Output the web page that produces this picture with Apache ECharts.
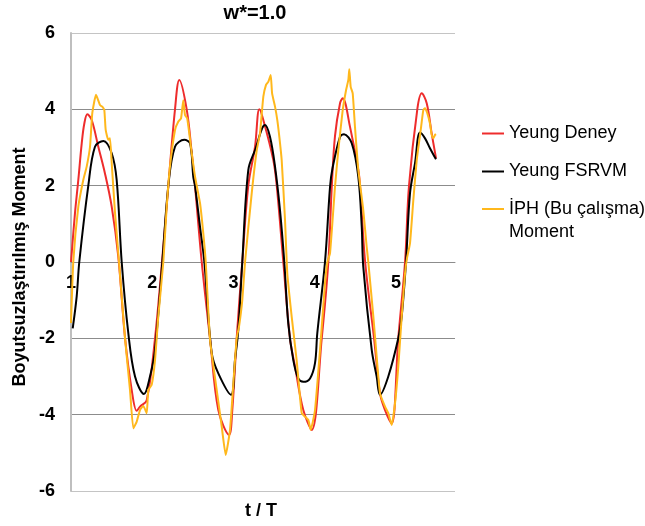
<!DOCTYPE html>
<html>
<head>
<meta charset="utf-8">
<script src="https://cdn.jsdelivr.net/npm/echarts@6/dist/echarts.min.js"></script>
<style>
  html, body { margin: 0; padding: 0; background: #fff; }
  #chart { width: 645px; height: 526px; }
</style>
</head>
<body>
<div id="chart"></div>
<script>
// Dimensionless moment vs t/T, three sources
const seriesNames = ['Yeung Deney', 'Yeung FSRVM', 'İPH (Bu çalışma)\nMoment'];
const xTicks = [1, 2, 3, 4, 5];
const yTicks = [-6, -4, -2, 0, 2, 4, 6];

// Yeung experiment [t/T, moment]
const yeungDeney = [
  [1.000, 0.00], [1.049, 1.28], [1.090, 2.15], [1.132, 3.11], [1.164, 3.63],
  [1.201, 3.87], [1.255, 3.72], [1.336, 3.02], [1.418, 2.32], [1.501, 1.45],
  [1.582, 0.14], [1.665, -1.99], [1.747, -3.35], [1.809, -3.90], [1.849, -3.79],
  [1.932, -3.62], [2.034, -2.00], [2.120, 0.00], [2.198, 2.00], [2.280, 4.00],
  [2.333, 4.77], [2.424, 4.00], [2.486, 2.86], [2.526, 2.00], [2.609, 0.00],
  [2.711, -2.00], [2.813, -3.88], [2.945, -4.53], [2.985, -3.88], [3.039, -2.00],
  [3.108, 0.00], [3.182, 2.00], [3.265, 3.02], [3.318, 4.00], [3.367, 3.72],
  [3.490, 2.67], [3.532, 2.00], [3.613, 0.00], [3.695, -2.00], [3.757, -2.74],
  [3.859, -3.88], [3.962, -4.40], [4.086, -2.00], [4.167, 0.00], [4.210, 2.00],
  [4.249, 3.30], [4.311, 4.16], [4.344, 4.29], [4.434, 3.54], [4.536, 2.41],
  [4.557, 2.00], [4.620, 0.00], [4.730, -2.00], [4.803, -3.44], [4.865, -3.88],
  [4.947, -4.23], [5.028, -2.00], [5.111, 0.00], [5.160, 2.00], [5.262, 4.00],
  [5.316, 4.42], [5.378, 4.16], [5.439, 3.37], [5.492, 2.72]
];

// Yeung FSRVM [t/T, moment]
const yeungFsrvm = [
  [1.021, -1.74], [1.070, -0.90], [1.102, 0.00], [1.213, 2.00], [1.295, 3.02],
  [1.398, 3.17], [1.501, 2.85], [1.562, 2.15], [1.624, 0.00], [1.705, -1.86],
  [1.788, -3.00], [1.898, -3.46], [1.972, -3.00], [2.034, -2.30], [2.124, 0.00],
  [2.198, 2.00], [2.280, 3.02], [2.394, 3.20], [2.465, 3.11], [2.505, 2.23],
  [2.526, 2.00], [2.588, 0.92], [2.641, 0.00], [2.732, -2.39], [2.813, -2.92],
  [2.969, -3.48], [3.018, -2.57], [3.059, -1.78], [3.108, 0.00], [3.182, 2.41],
  [3.265, 2.93], [3.388, 3.59], [3.449, 3.28], [3.511, 2.50], [3.572, 1.36],
  [3.625, 0.00], [3.674, -1.61], [3.736, -2.57], [3.797, -3.05], [3.859, -3.14],
  [3.942, -3.05], [4.003, -2.65], [4.031, -1.87], [4.126, 0.00], [4.188, 1.97],
  [4.218, 2.45], [4.311, 3.28], [4.360, 3.35], [4.455, 3.11], [4.536, 2.23],
  [4.578, 0.93], [4.597, -0.12], [4.701, -2.30], [4.762, -3.00], [4.803, -3.48],
  [4.905, -3.00], [5.028, -2.00], [5.070, -1.43], [5.123, 0.00], [5.172, 1.80],
  [5.234, 2.59], [5.295, 3.39], [5.357, 3.24], [5.418, 2.98], [5.492, 2.69]
];

// Present study (İPH) [t/T, moment]
const iphMoment = [
  [1.000, -1.60], [1.028, 0.00], [1.090, 1.45], [1.151, 2.15], [1.193, 2.50],
  [1.234, 3.02], [1.262, 3.90], [1.308, 4.38], [1.357, 4.11], [1.385, 4.07],
  [1.410, 3.98], [1.427, 3.46], [1.459, 3.20], [1.480, 3.24], [1.501, 2.59],
  [1.542, 1.28], [1.591, 0.00], [1.665, -2.00], [1.726, -3.35], [1.767, -4.36],
  [1.809, -4.18], [1.849, -3.88], [1.890, -3.77], [1.932, -3.96], [1.951, -3.35],
  [1.993, -3.22], [2.034, -2.57], [2.074, -1.43], [2.136, 0.00], [2.178, 1.45],
  [2.218, 2.50], [2.280, 3.46], [2.321, 3.68], [2.354, 3.76], [2.382, 4.24],
  [2.403, 3.85], [2.431, 3.76], [2.486, 2.85], [2.526, 2.24], [2.588, 1.54],
  [2.628, 0.75], [2.658, 0.00], [2.711, -2.04], [2.793, -3.35], [2.855, -4.31],
  [2.904, -5.06], [2.957, -4.40], [2.998, -3.18], [3.039, -2.00], [3.068, -1.69],
  [3.108, -1.00], [3.142, 0.00], [3.224, 1.80], [3.286, 2.93], [3.326, 3.37],
  [3.367, 4.33], [3.400, 4.64], [3.428, 4.72], [3.458, 4.90], [3.475, 4.42],
  [3.511, 4.07], [3.539, 3.72], [3.564, 3.28], [3.593, 2.67], [3.634, 1.10],
  [3.662, -0.30], [3.716, -1.43], [3.777, -2.57], [3.839, -3.96], [3.880, -4.05],
  [3.921, -4.14], [3.950, -4.40], [4.003, -3.88], [4.065, -2.30], [4.126, -0.56],
  [4.155, 0.00], [4.188, 0.23], [4.249, 1.97], [4.290, 2.93], [4.344, 3.98],
  [4.385, 4.50], [4.413, 4.77], [4.425, 5.05], [4.442, 4.59], [4.467, 4.42],
  [4.495, 3.54], [4.536, 2.41], [4.597, 1.36], [4.639, 0.40], [4.659, 0.00],
  [4.721, -1.43], [4.762, -2.48], [4.803, -3.44], [4.865, -3.79], [4.905, -3.96],
  [4.947, -4.27], [4.988, -3.70], [5.028, -2.74], [5.070, -1.43], [5.111, -0.30],
  [5.135, 0.10], [5.172, 0.49], [5.213, 1.62], [5.255, 2.67], [5.304, 3.46],
  [5.336, 3.98], [5.357, 4.03], [5.385, 3.90], [5.418, 3.63], [5.439, 3.33],
  [5.458, 3.24], [5.480, 3.33], [5.492, 3.35]
];

const FONT = '"Liberation Sans", Arial, sans-serif';
const colors = ['#ee2c2c', '#000000', '#ffb81c'];

const chart = echarts.init(document.getElementById('chart'), null, { renderer: 'canvas' });

function lineSeries(name, data, color, smooth) {
  return {
    name: name,
    type: 'line',
    data: data,
    showSymbol: false,
    symbol: 'none',
    smooth: smooth,
    lineStyle: { color: color, width: 2 },
    itemStyle: { color: color },
    z: 3
  };
}

const legendBase = {
  orient: 'vertical',
  left: 482,
  padding: 0,
  itemWidth: 22,
  itemHeight: 14,
  itemGap: 15,
  icon: 'path://M0,6 L22,6 L22,8 L0,8 Z',
  textStyle: { fontFamily: FONT, fontSize: 18, color: '#000', lineHeight: 23 }
};

chart.setOption({
  animation: false,
  backgroundColor: '#ffffff',
  title: [
    {
      text: 'w*=1.0',
      left: 255, top: 3, padding: 0,
      textAlign: 'center',
      textStyle: { fontFamily: FONT, fontSize: 20, fontWeight: 'bold', color: '#000' }
    },
    {
      text: 't / T',
      left: 261, top: 502, padding: 0,
      textAlign: 'center',
      textStyle: { fontFamily: FONT, fontSize: 18, fontWeight: 'bold', color: '#000' }
    }
  ],
  legend: [
    Object.assign({}, legendBase, { top: 122, data: [seriesNames[0], seriesNames[1]] }),
    // two-line entry: a blank leading line keeps the icon level with the first line
    Object.assign({}, legendBase, {
      top: 174.5,
      data: [seriesNames[2]],
      formatter: function (name) { return '\n' + name; }
    })
  ],
  graphic: [
    {
      type: 'text',
      x: 20, y: 267,
      rotation: Math.PI / 2,
      style: {
        text: 'Boyutsuzlaştırılmış Moment',
        font: 'bold 18px ' + FONT,
        fill: '#000',
        align: 'center',
        verticalAlign: 'middle'
      }
    }
  ],
  grid: { left: 71, top: 33, width: 384, height: 458, containLabel: false },
  xAxis: {
    type: 'value',
    min: xTicks[0],
    max: 5.726,
    interval: 1,
    offset: -229,
    axisLine: { show: true, onZero: false, lineStyle: { color: '#8c8c8c', width: 1 } },
    axisTick: { show: false },
    splitLine: { show: false },
    axisLabel: {
      margin: 12,
      fontFamily: FONT, fontSize: 18, fontWeight: 'bold', color: '#000',
      formatter: function (v) { return xTicks.indexOf(v) >= 0 ? String(v) : ''; }
    }
  },
  yAxis: {
    type: 'value',
    min: yTicks[0],
    max: yTicks[yTicks.length - 1],
    interval: 2,
    axisLine: { show: true, onZero: false, lineStyle: { color: '#bfbfbf', width: 2 } },
    axisTick: { show: false },
    axisLabel: {
      margin: 16,
      fontFamily: FONT, fontSize: 18, fontWeight: 'bold', color: '#000',
      formatter: function (v) { return String(v); }
    },
    splitLine: {
      show: true,
      lineStyle: {
        color: ['#c4c4c4', '#8c8c8c', '#8c8c8c', '#8c8c8c', '#8c8c8c', '#8c8c8c', '#c4c4c4'],
        width: 1
      }
    }
  },
  series: [
    lineSeries(seriesNames[0], yeungDeney, colors[0], 0.35),
    lineSeries(seriesNames[1], yeungFsrvm, colors[1], 0.35),
    lineSeries(seriesNames[2], iphMoment, colors[2], 0.15)
  ]
});
</script>
</body>
</html>
